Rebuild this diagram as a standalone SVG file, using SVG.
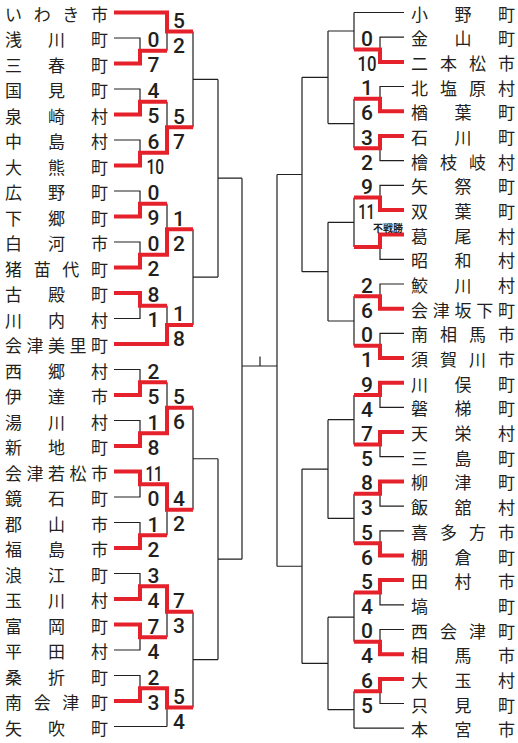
<svg xmlns="http://www.w3.org/2000/svg" width="518" height="743" viewBox="0 0 518 743">
<style>
.n{font-family:"Noto Sans CJK JP","Noto Sans CJK SC",sans-serif;font-size:17px;fill:#231f20}
.s{font-family:Roboto,"Liberation Sans",sans-serif;font-size:21px;font-weight:500;fill:#231f20}
.sr{text-anchor:middle}
.k{font-family:"Noto Sans CJK JP",sans-serif;font-size:10px;font-weight:700;fill:#231f20;text-anchor:end}
.b{fill:none;stroke:#231f20;stroke-width:1.2}
.r{fill:none;stroke:#e5222b;stroke-width:4;stroke-linejoin:miter;stroke-linecap:butt}
</style>
<rect width="518" height="743" fill="#fff"/>
<g id="connectors">
<path class="b" d="M114,12.5H167 M114,38H140V63.5H114 M140,50.75H167 M167,12.5V50.75 M167,31.6H193
M114,89H140V114.5H114 M140,101.75H167 M114,140H140V165.5H114 M140,152.75H167 M167,101.75V152.75 M167,127.25H193
M193,31.6V127.25 M193,79.4H218
M114,191H140V216.5H114 M140,203.75H167 M114,242H140V267.5H114 M140,254.75H167 M167,203.75V254.75 M167,229.25H193
M114,293H140V318.5H114 M140,305.75H167 M114,344H167 M167,305.75V344 M167,324.9H193
M193,229.25V324.9 M193,277.1H218 M218,79.4V277.1 M218,178.2H242
M114,369.5H140V395H114 M140,382.25H167 M114,420.5H140V446H114 M140,433.25H167 M167,382.25V433.25 M167,407.75H193
M114,471.5H140V497H114 M140,484.25H167 M114,522.5H140V548H114 M140,535.25H167 M167,484.25V535.25 M167,509.75H193
M193,407.75V509.75 M193,458.75H218
M114,573.5H140V599H114 M140,586.25H167 M114,624.5H140V650H114 M140,637.25H167 M167,586.25V637.25 M167,611.75H193
M114,675.5H140V701H114 M140,688.25H167 M114,726.5H167 M167,688.25V726.5 M167,707.4H193
M193,611.75V707.4 M193,659.6H218 M218,458.75V659.6 M218,559.2H242
M242,178.2V559.2 M242,366H277 M260,356.5V366"/>
<path class="b" d="M404,12.5H354 M404,37.2H380V61.9H404 M380,49.55H354 M354,12.5V49.55 M354,31H328
M404,86.5H380V111.2H404 M380,98.85H354 M404,135.9H380V160.6H404 M380,148.25H354 M354,98.85V148.25 M354,123.55H328
M328,31V123.55 M328,77.3H302
M404,185.3H380V209.9H404 M380,197.6H354 M404,234.6H380V259.3H404 M380,246.95H354 M354,197.6V246.95 M354,222.3H328
M404,284H380V308.7H404 M380,296.35H354 M404,333.3H380V358H404 M380,345.65H354 M354,296.35V345.65 M354,321H328
M328,222.3V321 M328,271.65H302 M302,77.3V271.65 M302,174.5H277
M404,382.7H380V407.4H404 M380,395.05H354 M404,432.1H380V456.7H404 M380,444.4H354 M354,395.05V444.4 M354,419.7H328
M404,481.4H380V506.1H404 M380,493.75H354 M404,530.8H380V555.5H404 M380,543.15H354 M354,493.75V543.15 M354,518.45H328
M328,419.7V518.45 M328,469.1H302
M404,580.1H380V604.8H404 M380,592.45H354 M404,629.5H380V654.2H404 M380,641.85H354 M354,592.45V641.85 M354,617.15H328
M404,678.9H380V703.5H404 M380,691.2H354 M404,728.2H354 M354,691.2V728.2 M354,709.7H328
M328,617.15V709.7 M328,663.4H302 M302,469.1V663.4 M302,566.25H277
M277,174.5V566.25"/>
<path class="r" d="M114,12.5H167V31.6H193"/>
<path class="r" d="M114,63.5H140V50.75H167"/>
<path class="r" d="M114,114.5H140V101.75H167"/>
<path class="r" d="M114,165.5H140V152.75H167V127.25H193"/>
<path class="r" d="M114,216.5H140V203.75H167"/>
<path class="r" d="M114,267.5H140V254.75H167V229.25H193"/>
<path class="r" d="M114,293H140V305.75H167"/>
<path class="r" d="M114,344H167V324.9H193"/>
<path class="r" d="M114,395H140V382.25H167"/>
<path class="r" d="M114,446H140V433.25H167V407.75H193"/>
<path class="r" d="M114,471.5H140V484.25H167V509.75H193"/>
<path class="r" d="M114,548H140V535.25H167"/>
<path class="r" d="M114,599H140V586.25H167V611.75H193"/>
<path class="r" d="M114,624.5H140V637.25H167"/>
<path class="r" d="M114,701H140V688.25H167V707.4H193"/>
<path class="r" d="M404,61.9H380V49.55H354"/>
<path class="r" d="M404,111.2H380V98.85H354"/>
<path class="r" d="M404,135.9H380V148.25H354"/>
<path class="r" d="M404,209.9H380V197.6H354"/>
<path class="r" d="M404,234.6H380V246.95H354"/>
<path class="r" d="M404,308.7H380V296.35H354"/>
<path class="r" d="M404,358H380V345.65H354"/>
<path class="r" d="M404,382.7H380V395.05H354"/>
<path class="r" d="M404,432.1H380V444.4H354"/>
<path class="r" d="M404,481.4H380V493.75H354"/>
<path class="r" d="M404,555.5H380V543.15H354"/>
<path class="r" d="M404,580.1H380V592.45H354"/>
<path class="r" d="M404,654.2H380V641.85H354"/>
<path class="r" d="M404,678.9H380V691.2H354"/>
</g>
<g id="scores">
<text class="s" x="147.5" y="47.25">0</text><text class="s" x="147.5" y="72.25">7</text>
<text class="s" x="147.5" y="98.25">4</text><text class="s" x="147.5" y="123.25">5</text>
<text class="s" x="147.5" y="149.25">6</text><text class="s" transform="translate(146.5,174.25) scale(0.74,1)">10</text>
<text class="s" x="147.5" y="200.25">0</text><text class="s" x="147.5" y="225.25">9</text>
<text class="s" x="147.5" y="251.25">0</text><text class="s" x="147.5" y="276.25">2</text>
<text class="s" x="147.5" y="302.25">8</text><text class="s" x="147.5" y="327.25">1</text>
<text class="s" x="147.5" y="378.75">2</text><text class="s" x="147.5" y="403.75">5</text>
<text class="s" x="147.5" y="429.75">1</text><text class="s" x="147.5" y="454.75">8</text>
<text class="s" transform="translate(145.5,480.75) scale(0.72,1)">11</text><text class="s" x="147.5" y="505.75">0</text>
<text class="s" x="147.5" y="531.75">1</text><text class="s" x="147.5" y="556.75">2</text>
<text class="s" x="147.5" y="582.75">3</text><text class="s" x="147.5" y="607.75">4</text>
<text class="s" x="147.5" y="633.75">7</text><text class="s" x="147.5" y="658.75">4</text>
<text class="s" x="147.5" y="684.75">2</text><text class="s" x="147.5" y="709.75">3</text>
<text class="s" x="173" y="28.1">5</text><text class="s" x="173" y="53.1">2</text>
<text class="s" x="173" y="123.75">5</text><text class="s" x="173" y="148.75">7</text>
<text class="s" x="173" y="225.75">1</text><text class="s" x="173" y="250.75">2</text>
<text class="s" x="173" y="321.4">1</text><text class="s" x="173" y="346.4">8</text>
<text class="s" x="173" y="404.25">5</text><text class="s" x="173" y="429.25">6</text>
<text class="s" x="173" y="506.25">4</text><text class="s" x="173" y="531.25">2</text>
<text class="s" x="173" y="608.25">7</text><text class="s" x="173" y="633.25">3</text>
<text class="s" x="173" y="703.9">5</text><text class="s" x="173" y="728.9">4</text>
<text class="s sr" x="367" y="46.05">0</text><text class="s sr" transform="translate(367,71.05) scale(0.8,1)">10</text>
<text class="s sr" x="367" y="95.35">1</text><text class="s sr" x="367" y="120.35">6</text>
<text class="s sr" x="367" y="144.75">3</text><text class="s sr" x="367" y="169.75">2</text>
<text class="s sr" x="367" y="194.1">9</text><text class="s sr" transform="translate(366.5,219.1) scale(0.7,1)">11</text>
<text class="k" x="403" y="232">不戦勝</text>
<text class="s sr" x="367" y="292.85">2</text><text class="s sr" x="367" y="317.85">6</text>
<text class="s sr" x="367" y="342.15">0</text><text class="s sr" x="367" y="367.15">1</text>
<text class="s sr" x="367" y="391.55">9</text><text class="s sr" x="367" y="416.55">4</text>
<text class="s sr" x="367" y="440.9">7</text><text class="s sr" x="367" y="465.9">5</text>
<text class="s sr" x="367" y="490.25">8</text><text class="s sr" x="367" y="515.25">3</text>
<text class="s sr" x="367" y="539.65">5</text><text class="s sr" x="367" y="564.65">6</text>
<text class="s sr" x="367" y="588.95">5</text><text class="s sr" x="367" y="613.95">4</text>
<text class="s sr" x="367" y="638.35">0</text><text class="s sr" x="367" y="663.35">4</text>
<text class="s sr" x="367" y="687.7">6</text><text class="s sr" x="367" y="712.7">5</text>
</g>
<g id="L01"><text class="n" x="5" y="20.5" textLength="103" lengthAdjust="spacing">いわき市</text></g>
<g id="L02"><text class="n" x="5" y="46" textLength="103" lengthAdjust="spacing">浅川町</text></g>
<g id="L03"><text class="n" x="5" y="71.5" textLength="103" lengthAdjust="spacing">三春町</text></g>
<g id="L04"><text class="n" x="5" y="97" textLength="103" lengthAdjust="spacing">国見町</text></g>
<g id="L05"><text class="n" x="5" y="122.5" textLength="103" lengthAdjust="spacing">泉崎村</text></g>
<g id="L06"><text class="n" x="5" y="148" textLength="103" lengthAdjust="spacing">中島村</text></g>
<g id="L07"><text class="n" x="5" y="173.5" textLength="103" lengthAdjust="spacing">大熊町</text></g>
<g id="L08"><text class="n" x="5" y="199" textLength="103" lengthAdjust="spacing">広野町</text></g>
<g id="L09"><text class="n" x="5" y="224.5" textLength="103" lengthAdjust="spacing">下郷町</text></g>
<g id="L10"><text class="n" x="5" y="250" textLength="103" lengthAdjust="spacing">白河市</text></g>
<g id="L11"><text class="n" x="5" y="275.5" textLength="103" lengthAdjust="spacing">猪苗代町</text></g>
<g id="L12"><text class="n" x="5" y="301" textLength="103" lengthAdjust="spacing">古殿町</text></g>
<g id="L13"><text class="n" x="5" y="326.5" textLength="103" lengthAdjust="spacing">川内村</text></g>
<g id="L14"><text class="n" x="5" y="352" textLength="103" lengthAdjust="spacing">会津美里町</text></g>
<g id="L15"><text class="n" x="5" y="377.5" textLength="103" lengthAdjust="spacing">西郷村</text></g>
<g id="L16"><text class="n" x="5" y="403" textLength="103" lengthAdjust="spacing">伊達市</text></g>
<g id="L17"><text class="n" x="5" y="428.5" textLength="103" lengthAdjust="spacing">湯川村</text></g>
<g id="L18"><text class="n" x="5" y="454" textLength="103" lengthAdjust="spacing">新地町</text></g>
<g id="L19"><text class="n" x="5" y="479.5" textLength="103" lengthAdjust="spacing">会津若松市</text></g>
<g id="L20"><text class="n" x="5" y="505" textLength="103" lengthAdjust="spacing">鏡石町</text></g>
<g id="L21"><text class="n" x="5" y="530.5" textLength="103" lengthAdjust="spacing">郡山市</text></g>
<g id="L22"><text class="n" x="5" y="556" textLength="103" lengthAdjust="spacing">福島市</text></g>
<g id="L23"><text class="n" x="5" y="581.5" textLength="103" lengthAdjust="spacing">浪江町</text></g>
<g id="L24"><text class="n" x="5" y="607" textLength="103" lengthAdjust="spacing">玉川村</text></g>
<g id="L25"><text class="n" x="5" y="632.5" textLength="103" lengthAdjust="spacing">富岡町</text></g>
<g id="L26"><text class="n" x="5" y="658" textLength="103" lengthAdjust="spacing">平田村</text></g>
<g id="L27"><text class="n" x="5" y="683.5" textLength="103" lengthAdjust="spacing">桑折町</text></g>
<g id="L28"><text class="n" x="5" y="709" textLength="103" lengthAdjust="spacing">南会津町</text></g>
<g id="L29"><text class="n" x="5" y="734.5" textLength="103" lengthAdjust="spacing">矢吹町</text></g>
<g id="R01"><text class="n" x="411" y="20.5" textLength="104" lengthAdjust="spacing">小野町</text></g>
<g id="R02"><text class="n" x="411" y="45.2" textLength="104" lengthAdjust="spacing">金山町</text></g>
<g id="R03"><text class="n" x="411" y="69.9" textLength="104" lengthAdjust="spacing">二本松市</text></g>
<g id="R04"><text class="n" x="411" y="94.5" textLength="104" lengthAdjust="spacing">北塩原村</text></g>
<g id="R05"><text class="n" x="411" y="119.2" textLength="104" lengthAdjust="spacing">楢葉町</text></g>
<g id="R06"><text class="n" x="411" y="143.9" textLength="104" lengthAdjust="spacing">石川町</text></g>
<g id="R07"><text class="n" x="411" y="168.6" textLength="104" lengthAdjust="spacing">檜枝岐村</text></g>
<g id="R08"><text class="n" x="411" y="193.3" textLength="104" lengthAdjust="spacing">矢祭町</text></g>
<g id="R09"><text class="n" x="411" y="217.9" textLength="104" lengthAdjust="spacing">双葉町</text></g>
<g id="R10"><text class="n" x="411" y="242.6" textLength="104" lengthAdjust="spacing">葛尾村</text></g>
<g id="R11"><text class="n" x="411" y="267.3" textLength="104" lengthAdjust="spacing">昭和村</text></g>
<g id="R12"><text class="n" x="411" y="292" textLength="104" lengthAdjust="spacing">鮫川村</text></g>
<g id="R13"><text class="n" x="411" y="316.7" textLength="104" lengthAdjust="spacing">会津坂下町</text></g>
<g id="R14"><text class="n" x="411" y="341.3" textLength="104" lengthAdjust="spacing">南相馬市</text></g>
<g id="R15"><text class="n" x="411" y="366" textLength="104" lengthAdjust="spacing">須賀川市</text></g>
<g id="R16"><text class="n" x="411" y="390.7" textLength="104" lengthAdjust="spacing">川俣町</text></g>
<g id="R17"><text class="n" x="411" y="415.4" textLength="104" lengthAdjust="spacing">磐梯町</text></g>
<g id="R18"><text class="n" x="411" y="440.1" textLength="104" lengthAdjust="spacing">天栄村</text></g>
<g id="R19"><text class="n" x="411" y="464.7" textLength="104" lengthAdjust="spacing">三島町</text></g>
<g id="R20"><text class="n" x="411" y="489.4" textLength="104" lengthAdjust="spacing">柳津町</text></g>
<g id="R21"><text class="n" x="411" y="514.1" textLength="104" lengthAdjust="spacing">飯舘村</text></g>
<g id="R22"><text class="n" x="411" y="538.8" textLength="104" lengthAdjust="spacing">喜多方市</text></g>
<g id="R23"><text class="n" x="411" y="563.5" textLength="104" lengthAdjust="spacing">棚倉町</text></g>
<g id="R24"><text class="n" x="411" y="588.1" textLength="104" lengthAdjust="spacing">田村市</text></g>
<g id="R25"><text class="n" x="411" y="612.8" textLength="104" lengthAdjust="spacing">塙町</text></g>
<g id="R26"><text class="n" x="411" y="637.5" textLength="104" lengthAdjust="spacing">西会津町</text></g>
<g id="R27"><text class="n" x="411" y="662.2" textLength="104" lengthAdjust="spacing">相馬市</text></g>
<g id="R28"><text class="n" x="411" y="686.9" textLength="104" lengthAdjust="spacing">大玉村</text></g>
<g id="R29"><text class="n" x="411" y="711.5" textLength="104" lengthAdjust="spacing">只見町</text></g>
<g id="R30"><text class="n" x="411" y="736.2" textLength="104" lengthAdjust="spacing">本宮市</text></g>
</svg>
